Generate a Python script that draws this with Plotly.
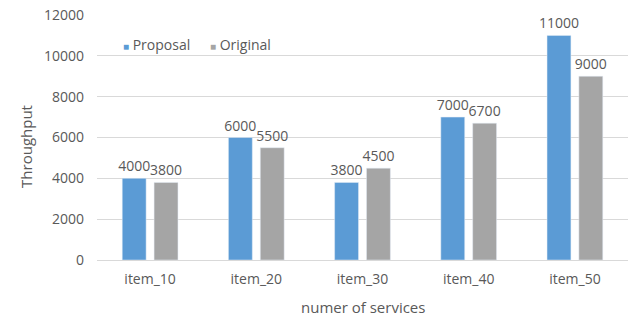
import plotly.graph_objects as go

categories = ["item_10", "item_20", "item_30", "item_40", "item_50"]
proposal = [4000, 6000, 3800, 7000, 11000]
original = [3800, 5500, 4500, 6700, 9000]
series_names = ["Proposal", "Original"]
colors = ["#5B9BD5", "#A5A5A5"]

font_family = "Open Sans, Noto Sans, sans-serif"
txt_color = "#595959"

fig = go.Figure()
for name, vals, col in zip(series_names, [proposal, original], colors):
    fig.add_trace(go.Bar(name=name, x=categories, y=vals, marker_color=col,
                         text=[str(v) for v in vals], textposition="outside",
                         constraintext="none",
                         textfont=dict(size=14, color=txt_color), cliponaxis=False,
                         showlegend=False))

# legend drawn as text annotations (Excel-style compact legend)
leg_x = [0.045, 0.209]
for name, col, lx in zip(series_names, colors, leg_x):
    fig.add_annotation(xref="paper", yref="paper", x=lx, y=0.878, xanchor="left", yanchor="middle",
                       showarrow=False,
                       text=f'<span style="color:{col};font-size:10px">■</span> {name}',
                       font=dict(size=14, color=txt_color, family=font_family))

fig.add_annotation(xref="paper", yref="paper", x=0.5, y=-0.19, xanchor="center", yanchor="middle",
                   showarrow=False, text="numer of services",
                   font=dict(size=15, color=txt_color, family=font_family))
fig.add_annotation(xref="paper", yref="paper", x=-0.134, y=0.465, xanchor="center", yanchor="middle",
                   showarrow=False, text="Throughput", textangle=-90,
                   font=dict(size=15, color=txt_color, family=font_family))

fig.update_layout(
    width=642, height=317,
    margin=dict(l=97, r=14, t=15, b=57),
    paper_bgcolor="white", plot_bgcolor="white",
    barmode="group", bargap=0.4, bargroupgap=0.25,
    font=dict(family=font_family, size=14, color=txt_color),
    showlegend=False,
    xaxis=dict(automargin=False, showline=True, linecolor="#D9D9D9", ticks="",
               ticklabelstandoff=6, tickfont=dict(size=14, color=txt_color)),
    yaxis=dict(automargin=False, range=[0, 12000], dtick=2000, showgrid=True, gridcolor="#D9D9D9",
               zeroline=False, ticks="", tickformat="d", ticklabelstandoff=12,
               ticklabeloverflow="allow", tickfont=dict(size=14, color=txt_color)),
)
# remove the default 8px page margin so the figure fills the window exactly
fig.write_html("out.html", config={"displayModeBar": False},
               post_script="document.body.style.margin='0';document.body.style.overflow='hidden';")
